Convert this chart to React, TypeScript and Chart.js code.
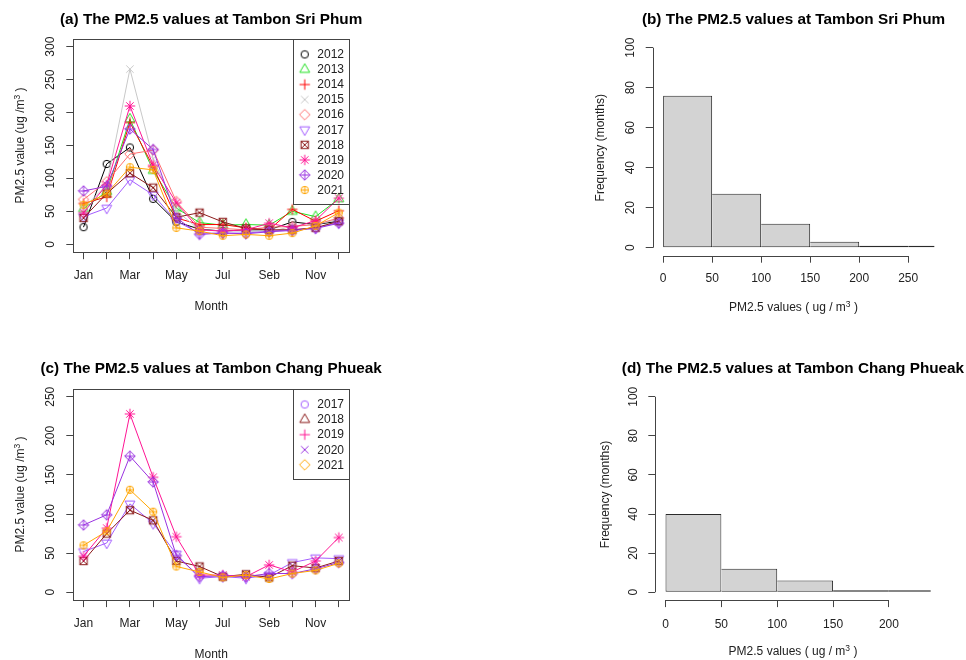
import React, { useEffect, useRef } from "react";
import { Chart, registerables } from "chart.js";

Chart.register(...registerables);

const FONT = "'Liberation Sans', Arial, Helvetica, sans-serif";
Chart.defaults.font.family = FONT;
Chart.defaults.color = "#222";

// ---------------- data ----------------
const MONTH_NUMBERS = [1, 2, 3, 4, 5, 6, 7, 8, 9, 10, 11, 12];
const MONTH_TICK_LABELS = ["Jan", "", "Mar", "", "May", "", "Jul", "", "Seb", "", "Nov", ""];

const SRI_PHUM_YEARS = ["2012", "2013", "2014", "2015", "2016", "2017", "2018", "2019", "2020", "2021"];
const sriPhum2012 = [26, 122, 147, 69, 34, 23, 20, 22, 22, 34, 30, 35];
const sriPhum2013 = [54, 80, 190, 112, 55, 33, 29, 30, 29, 50, 42, 69];
const sriPhum2014 = [62, 72, 185, 118, 40, 30, 30, 25, 22, 53, 35, 51];
const sriPhum2015 = [55, 90, 266, 130, 51, 22, 20, 20, 18, 28, 30, 38];
const sriPhum2016 = [68, 95, 137, 143, 65, 26, 24, 22, 26, 27, 30, 40];
const sriPhum2017 = [42, 55, 98, 75, 35, 17, 17, 17, 20, 22, 25, 33];
const sriPhum2018 = [40, 77, 108, 86, 41, 48, 34, 24, 22, 22, 25, 35];
const sriPhum2019 = [48, 90, 210, 120, 63, 22, 20, 22, 32, 25, 36, 70];
const sriPhum2020 = [81, 88, 175, 144, 40, 15, 17, 16, 19, 21, 24, 32];
const sriPhum2021 = [60, 77, 117, 113, 25, 20, 13, 15, 13, 17, 28, 48];
const SRI_PHUM_SERIES = [
  sriPhum2012, sriPhum2013, sriPhum2014, sriPhum2015, sriPhum2016,
  sriPhum2017, sriPhum2018, sriPhum2019, sriPhum2020, sriPhum2021,
];
const SRI_PHUM_Y_TICKS = [0, 50, 100, 150, 200, 250, 300];

const CHANG_PHUEAK_YEARS = ["2017", "2018", "2019", "2020", "2021"];
const changPhueak2017 = [52, 63, 113, 88, 49, 18, 20, 18, 22, 38, 44, 43];
const changPhueak2018 = [40, 75, 105, 92, 40, 33, 20, 23, 19, 34, 31, 40];
const changPhueak2019 = [46, 82, 228, 147, 71, 22, 22, 20, 35, 26, 40, 70];
const changPhueak2020 = [86, 99, 174, 141, 47, 20, 21, 20, 24, 24, 30, 38];
const changPhueak2021 = [60, 78, 131, 103, 33, 26, 19, 22, 17, 24, 28, 37];
const CHANG_PHUEAK_SERIES = [changPhueak2017, changPhueak2018, changPhueak2019, changPhueak2020, changPhueak2021];
const CHANG_PHUEAK_Y_TICKS = [0, 50, 100, 150, 200, 250];

const FREQ_TICKS = [0, 20, 40, 60, 80, 100];
const SRI_PHUM_BIN_MIDS = [25, 75, 125, 175, 225, 275];
const SRI_PHUM_BIN_COUNTS = [76, 27, 12, 3, 1, 1];
const SRI_PHUM_HIST_X_TICKS = [0, 50, 100, 150, 200, 250];
const CHANG_PHUEAK_BIN_MIDS = [25, 75, 125, 175, 225];
const CHANG_PHUEAK_BIN_COUNTS = [40, 12, 6, 1, 1];
const CHANG_PHUEAK_HIST_X_TICKS = [0, 50, 100, 150, 200];

// ---------------- styles ----------------
const SRI_PHUM_COLORS = ["#000000", "#22E022", "#FF0000", "#C8C8C8", "#FF7070", "#A35CFF", "#8B1A1A", "#FF1493", "#9A32E0", "#FFA500"];
const SRI_PHUM_PCH = [1, 2, 3, 4, 5, 6, 7, 8, 9, 10];
const CHANG_PHUEAK_COLORS = ["#A35CFF", "#8B1A1A", "#FF1493", "#9A32E0", "#FFA500"];
const CHANG_PHUEAK_POINT_PCH = [6, 7, 8, 9, 10];
const CHANG_PHUEAK_LEGEND_PCH = [1, 2, 3, 4, 5];

const AXIS_COLOR = "#444";
const TEXT_COLOR = "#222";

type Seg = { t: string; sup?: boolean };

function makeSymbol(pch: number, color: string): HTMLCanvasElement {
  const S = 16;
  const cv = document.createElement("canvas");
  cv.width = S;
  cv.height = S;
  const g = cv.getContext("2d") as CanvasRenderingContext2D;
  const c = S / 2;
  const r = 3.7;
  g.strokeStyle = color;
  g.lineWidth = 1;
  const seg = (x1: number, y1: number, x2: number, y2: number) => {
    g.beginPath();
    g.moveTo(c + x1, c + y1);
    g.lineTo(c + x2, c + y2);
    g.stroke();
  };
  const circ = (rr: number) => {
    g.beginPath();
    g.arc(c, c, rr, 0, Math.PI * 2);
    g.stroke();
  };
  const poly = (pts: number[][]) => {
    g.beginPath();
    pts.forEach(([x, y], k) => (k ? g.lineTo(c + x, c + y) : g.moveTo(c + x, c + y)));
    g.closePath();
    g.stroke();
  };
  const t0 = 1.555 * r;
  const t1 = (t0 * Math.sqrt(3)) / 2;
  const t2 = t0 / 2;
  const d = Math.SQRT2 * r;
  switch (pch) {
    case 1: circ(r); break;
    case 2: poly([[0, -t0], [t1, t2], [-t1, t2]]); break;
    case 3: seg(-d, 0, d, 0); seg(0, -d, 0, d); break;
    case 4: seg(-r, -r, r, r); seg(-r, r, r, -r); break;
    case 5: poly([[0, -d], [d, 0], [0, d], [-d, 0]]); break;
    case 6: poly([[0, t0], [t1, -t2], [-t1, -t2]]); break;
    case 7: g.strokeRect(c - r, c - r, 2 * r, 2 * r); seg(-r, -r, r, r); seg(-r, r, r, -r); break;
    case 8: seg(-r, -r, r, r); seg(-r, r, r, -r); seg(-d, 0, d, 0); seg(0, -d, 0, d); break;
    case 9: poly([[0, -d], [d, 0], [0, d], [-d, 0]]); seg(-d, 0, d, 0); seg(0, -d, 0, d); break;
    case 10: circ(r); seg(-r, 0, r, 0); seg(0, -r, 0, r); break;
  }
  return cv;
}

function drawSegs(ctx: CanvasRenderingContext2D, segs: Seg[], cx: number, y: number) {
  const nf = `12px ${FONT}`;
  const sf = `8.5px ${FONT}`;
  let total = 0;
  const widths = segs.map((s) => {
    ctx.font = s.sup ? sf : nf;
    const w = ctx.measureText(s.t).width;
    total += w;
    return w;
  });
  let x = cx - total / 2;
  ctx.textAlign = "left";
  ctx.textBaseline = "alphabetic";
  segs.forEach((s, i) => {
    ctx.font = s.sup ? sf : nf;
    ctx.fillText(s.t, x, s.sup ? y - 4 : y);
    x += widths[i];
  });
}

type Area = { left: number; right: number; top: number; bottom: number };

type DecorSpec = {
  title: string;
  titleY: number;
  xTitle: Seg[];
  xTitleOffset: number;
  yTitle: Seg[];
  yTitleX: number;
  box?: boolean;
  axisLines?: { xFrom: number; xTo: number; yFrom: number; yTo: number };
  legend?: { labels: string[]; symbols: HTMLCanvasElement[] };
};

function decorPlugin(spec: DecorSpec) {
  return {
    id: "decor",
    afterDraw(chart: any) {
      const ctx: CanvasRenderingContext2D = chart.ctx;
      const a = chart.chartArea;
      ctx.save();
      ctx.strokeStyle = AXIS_COLOR;
      ctx.lineWidth = 1;
      if (spec.box) {
        ctx.strokeRect(Math.round(a.left) + 0.5, Math.round(a.top) + 0.5, Math.round(a.right) - Math.round(a.left), Math.round(a.bottom) - Math.round(a.top));
      }
      if (spec.axisLines) {
        const xs = chart.scales.x;
        const ys = chart.scales.y;
        const yb = Math.round(a.bottom) + 0.5;
        const xl = Math.round(a.left) + 0.5;
        ctx.beginPath();
        ctx.moveTo(xs.getPixelForValue(spec.axisLines.xFrom), yb);
        ctx.lineTo(xs.getPixelForValue(spec.axisLines.xTo), yb);
        ctx.moveTo(xl, ys.getPixelForValue(spec.axisLines.yFrom));
        ctx.lineTo(xl, ys.getPixelForValue(spec.axisLines.yTo));
        ctx.stroke();
      }
      const cx = (a.left + a.right) / 2;
      const cy = (a.top + a.bottom) / 2;
      // main title
      ctx.fillStyle = "#000";
      ctx.font = `bold 15.3px ${FONT}`;
      ctx.textAlign = "center";
      ctx.textBaseline = "alphabetic";
      ctx.fillText(spec.title, cx, spec.titleY);
      // axis titles
      ctx.fillStyle = TEXT_COLOR;
      drawSegs(ctx, spec.xTitle, cx, a.bottom + spec.xTitleOffset);
      ctx.save();
      ctx.translate(spec.yTitleX, cy);
      ctx.rotate(-Math.PI / 2);
      drawSegs(ctx, spec.yTitle, 0, 0);
      ctx.restore();
      // legend (transparent box, as in the original)
      if (spec.legend) {
        const n = spec.legend.labels.length;
        const bw = 55.7;
        const first = 15.6;
        const step = 15.07;
        const h = first + (n - 1) * step + 13.7;
        const x0 = Math.round(a.right - bw) + 0.5;
        ctx.strokeStyle = AXIS_COLOR;
        ctx.strokeRect(x0, Math.round(a.top) + 0.5, Math.round(a.right) + 0.5 - x0, Math.round(h));
        ctx.font = `12px ${FONT}`;
        ctx.textAlign = "left";
        ctx.textBaseline = "middle";
        ctx.fillStyle = TEXT_COLOR;
        spec.legend.labels.forEach((lab, i) => {
          const yy = a.top + first + i * step;
          const sym = spec.legend!.symbols[i];
          ctx.drawImage(sym, a.right - 44.3 - sym.width / 2, yy - sym.height / 2);
          ctx.fillText(lab, a.right - 31.7, yy + 0.5);
        });
      }
      ctx.restore();
    },
  };
}

const tickFont = { family: FONT, size: 12 };
const gridTicks = { drawOnChartArea: false, drawTicks: true, tickLength: 7, color: AXIS_COLOR, lineWidth: 1 };

type LineSpec = {
  series: number[][];
  years: string[];
  colors: string[];
  pointPch: number[];
  legendPch: number[];
  yMin: number;
  yMax: number;
  yTicks: number[];
  area: Area;
  width: number;
  height: number;
  title: string;
  titleY: number;
  xTickPad: number;
  yTickPad: number;
};

function buildLine(canvas: HTMLCanvasElement, s: LineSpec) {
  const pointSyms = s.pointPch.map((p, i) => makeSymbol(p, s.colors[i]));
  const legendSyms = s.legendPch.map((p, i) => makeSymbol(p, s.colors[i]));
  const n = s.series.length;
  const config: any = {
    type: "line",
    data: {
      datasets: s.series.map((vals, i) => ({
        label: s.years[i],
        data: vals.map((v, j) => ({ x: MONTH_NUMBERS[j], y: v })),
        borderColor: s.colors[i],
        backgroundColor: s.colors[i],
        borderWidth: 1,
        pointStyle: pointSyms[i],
        pointRadius: 4,
        pointHoverRadius: 4,
        tension: 0,
        fill: false,
        order: n - i,
      })),
    },
    options: {
      responsive: false,
      animation: false,
      devicePixelRatio: 1,
      events: [],
      layout: { padding: { left: 0, top: s.area.top, right: s.width - s.area.right, bottom: 0 } },
      plugins: { legend: { display: false }, title: { display: false }, tooltip: { enabled: false } },
      scales: {
        x: {
          type: "linear",
          min: 0.56,
          max: 12.44,
          afterBuildTicks: (sc: any) => { sc.ticks = MONTH_NUMBERS.map((v) => ({ value: v })); },
          afterFit: (sc: any) => { sc.height = s.height - s.area.bottom; },
          ticks: {
            autoSkip: false,
            minRotation: 0,
            maxRotation: 0,
            padding: s.xTickPad,
            color: TEXT_COLOR,
            font: tickFont,
            callback: (v: number) => MONTH_TICK_LABELS[Math.round(v) - 1] ?? "",
          },
          grid: gridTicks,
          border: { display: false },
        },
        y: {
          type: "linear",
          min: s.yMin,
          max: s.yMax,
          afterBuildTicks: (sc: any) => { sc.ticks = s.yTicks.map((v) => ({ value: v })); },
          afterFit: (sc: any) => { sc.width = s.area.left; },
          ticks: { minRotation: 90, maxRotation: 90, crossAlign: "center", padding: s.yTickPad, color: TEXT_COLOR, font: tickFont },
          grid: gridTicks,
          border: { display: false },
        },
      },
    },
    plugins: [
      decorPlugin({
        title: s.title,
        titleY: s.titleY,
        xTitle: [{ t: "Month" }],
        xTitleOffset: 57.8,
        yTitle: [{ t: "PM2.5 value (ug /m" }, { t: "3", sup: true }, { t: " )" }],
        yTitleX: 23.5,
        box: true,
        legend: { labels: s.years, symbols: legendSyms },
      }),
    ],
  };
  return new Chart(canvas, config);
}

type HistSpec = {
  mids: number[];
  counts: number[];
  xTicks: number[];
  xMin: number;
  xMax: number;
  area: Area;
  width: number;
  height: number;
  title: string;
  titleY: number;
  yTitleX: number;
  xTickPad: number;
  yTickPad: number;
};

function buildHist(canvas: HTMLCanvasElement, s: HistSpec) {
  const config: any = {
    type: "bar",
    data: {
      datasets: [
        {
          label: "Frequency",
          data: s.mids.map((m, i) => ({ x: m, y: s.counts[i] })),
          backgroundColor: "#D3D3D3",
          borderColor: "#2a2a2a",
          borderWidth: (c: any) => ({ left: c.dataIndex === 0 ? 1 : 0, right: 1, top: 1, bottom: 1 }),
          borderSkipped: false,
          barPercentage: 1,
          categoryPercentage: 1,
          inflateAmount: 0,
        },
      ],
    },
    options: {
      responsive: false,
      animation: false,
      devicePixelRatio: 1,
      events: [],
      layout: { padding: { left: 0, top: s.area.top, right: s.width - s.area.right, bottom: 0 } },
      plugins: { legend: { display: false }, title: { display: false }, tooltip: { enabled: false } },
      scales: {
        x: {
          type: "linear",
          min: s.xMin,
          max: s.xMax,
          offset: false,
          afterBuildTicks: (sc: any) => { sc.ticks = s.xTicks.map((v) => ({ value: v })); },
          afterFit: (sc: any) => { sc.height = s.height - s.area.bottom; },
          ticks: { autoSkip: false, minRotation: 0, maxRotation: 0, padding: s.xTickPad, color: TEXT_COLOR, font: tickFont },
          grid: { ...gridTicks, offset: false },
          border: { display: false },
        },
        y: {
          type: "linear",
          min: -4,
          max: 104,
          afterBuildTicks: (sc: any) => { sc.ticks = FREQ_TICKS.map((v) => ({ value: v })); },
          afterFit: (sc: any) => { sc.width = s.area.left; },
          ticks: { minRotation: 90, maxRotation: 90, crossAlign: "center", padding: s.yTickPad, color: TEXT_COLOR, font: tickFont },
          grid: gridTicks,
          border: { display: false },
        },
      },
    },
    plugins: [
      decorPlugin({
        title: s.title,
        titleY: s.titleY,
        xTitle: [{ t: "PM2.5 values ( ug / m" }, { t: "3", sup: true }, { t: " )" }],
        xTitleOffset: 54.8,
        yTitle: [{ t: "Frequency (months)" }],
        yTitleX: s.yTitleX,
        axisLines: { xFrom: s.xTicks[0], xTo: s.xTicks[s.xTicks.length - 1], yFrom: FREQ_TICKS[0], yTo: FREQ_TICKS[FREQ_TICKS.length - 1] },
      }),
    ],
  };
  return new Chart(canvas, config);
}

const PW = 483;
const PH = 330;

const makeA = (c: HTMLCanvasElement) =>
  buildLine(c, {
    series: SRI_PHUM_SERIES,
    years: SRI_PHUM_YEARS,
    colors: SRI_PHUM_COLORS,
    pointPch: SRI_PHUM_PCH,
    legendPch: SRI_PHUM_PCH,
    yMin: -12,
    yMax: 312,
    yTicks: SRI_PHUM_Y_TICKS,
    area: { left: 73.3, right: 349, top: 38.8, bottom: 252.2 },
    width: PW,
    height: PH,
    title: "(a) The PM2.5 values at Tambon Sri Phum",
    titleY: 23.5,
    xTickPad: 9.3,
    yTickPad: 5.7,
  });

const makeC = (c: HTMLCanvasElement) =>
  buildLine(c, {
    series: CHANG_PHUEAK_SERIES,
    years: CHANG_PHUEAK_YEARS,
    colors: CHANG_PHUEAK_COLORS,
    pointPch: CHANG_PHUEAK_POINT_PCH,
    legendPch: CHANG_PHUEAK_LEGEND_PCH,
    yMin: -10,
    yMax: 260,
    yTicks: CHANG_PHUEAK_Y_TICKS,
    area: { left: 73.3, right: 349, top: 58.9, bottom: 270.1 },
    width: PW,
    height: PH,
    title: "(c) The PM2.5 values at Tambon Chang Phueak",
    titleY: 42.5,
    xTickPad: 9,
    yTickPad: 5.5,
  });

const makeB = (c: HTMLCanvasElement) =>
  buildHist(c, {
    mids: SRI_PHUM_BIN_MIDS,
    counts: SRI_PHUM_BIN_COUNTS,
    xTicks: SRI_PHUM_HIST_X_TICKS,
    xMin: -10.64,
    xMax: 276.64,
    area: { left: 169.7, right: 451.3, top: 39.7, bottom: 255.7 },
    width: PW,
    height: PH,
    title: "(b) The PM2.5 values at Tambon Sri Phum",
    titleY: 23.5,
    yTitleX: 120.5,
    xTickPad: 8.4,
    yTickPad: 4.8,
  });

const makeD = (c: HTMLCanvasElement) =>
  buildHist(c, {
    mids: CHANG_PHUEAK_BIN_MIDS,
    counts: CHANG_PHUEAK_BIN_COUNTS,
    xTicks: CHANG_PHUEAK_HIST_X_TICKS,
    xMin: -9.13,
    xMax: 237.4,
    area: { left: 172.3, right: 447.7, top: 58.9, bottom: 270.1 },
    width: PW,
    height: PH,
    title: "(d) The PM2.5 values at Tambon Chang Phueak",
    titleY: 42.5,
    yTitleX: 125.6,
    xTickPad: 10,
    yTickPad: 4.2,
  });

function ChartCanvas(props: { left: number; top: number; build: (c: HTMLCanvasElement) => Chart }) {
  const ref = useRef<HTMLCanvasElement | null>(null);
  const { build } = props;
  useEffect(() => {
    if (!ref.current) return;
    const chart = build(ref.current);
    return () => chart.destroy();
  }, [build]);
  return (
    <canvas
      ref={ref}
      width={PW}
      height={PH}
      style={{ position: "absolute", left: props.left, top: props.top, width: PW, height: PH, display: "block" }}
    />
  );
}

export default function App() {
  return (
    <div style={{ position: "absolute", left: 0, top: 0, width: 966, height: 660, background: "#fff", overflow: "hidden" }}>
      <ChartCanvas left={0} top={0} build={makeA} />
      <ChartCanvas left={PW} top={0} build={makeB} />
      <ChartCanvas left={0} top={PH} build={makeC} />
      <ChartCanvas left={PW} top={PH} build={makeD} />
    </div>
  );
}
